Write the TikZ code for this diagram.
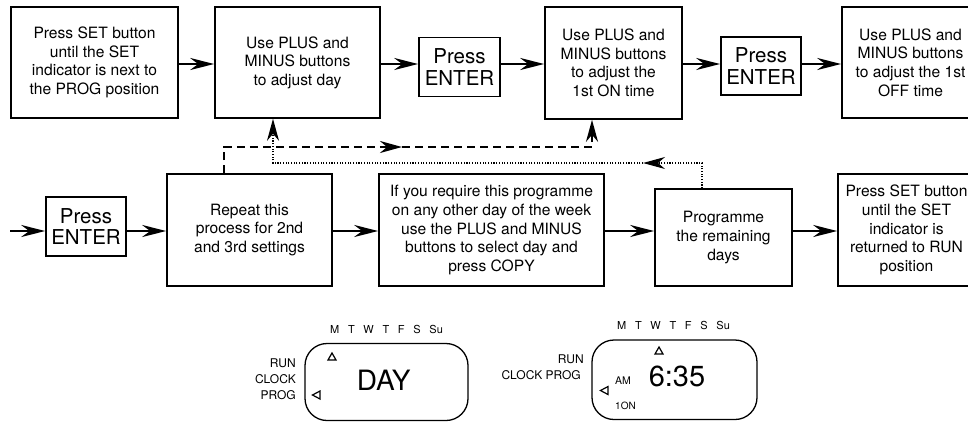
\documentclass[tikz,border=0pt]{standalone}
\usepackage{fontspec}
\setmainfont{TeX Gyre Heros}
\usetikzlibrary{arrows.meta}
\tikzset{
  box/.style={draw, line width=1.6pt, align=center, inner sep=0pt,
    font=\fontsize{15.6}{18.6}\selectfont},
  ebox/.style={draw, line width=1.6pt, align=center, inner sep=0pt,
    font=\fontsize{20.5}{21.5}\selectfont},
  arr/.style={line width=2.4pt, -{Stealth[length=24pt,width=12pt,inset=8pt]}},
  dashln/.style={line width=2.4pt, dash pattern=on 8pt off 5pt, -{Stealth[length=22pt,width=12pt,inset=7pt]}},
  dotln/.style={line width=1.1pt, dash pattern=on 1.1pt off 1.6pt, -{Stealth[length=22pt,width=12pt,inset=7pt]}},
  disp/.style={draw, line width=1.3pt, rounded corners=22pt},
  lbl/.style={font=\fontsize{12}{12}\selectfont, inner sep=0pt},
  days/.style={font=\fontsize{11}{12}\selectfont, inner sep=0pt, anchor=west},
  tri/.style={line width=1.2pt, line join=miter},
}
\newcommand{\dayrow}{M\hspace{8.7pt}T\hspace{8.7pt}W\hspace{8.7pt}T\hspace{8.7pt}F\hspace{8.7pt}S\hspace{8.7pt}Su}
\begin{document}
\begin{tikzpicture}[x=1pt,y=-1pt]
\useasboundingbox (0,0) rectangle (968,421);
\clip (0,0) rectangle (968,421);
% row 1
\node[box, minimum width=167pt, minimum height=111pt] (b1) at (94.5,62.5)
  {Press SET button\\until the SET\\indicator is next to\\the PROG position};
\node[box, minimum width=165pt, minimum height=111pt] (b2) at (297.5,62.5)
  {Use PLUS and\\MINUS buttons\\to adjust day};
\node[ebox, minimum width=81pt, minimum height=59pt] (e1) at (459.5,67)
  {Press\\ENTER};
\node[box, minimum width=137pt, minimum height=112pt] (b3) at (613.5,63)
  {Use PLUS and\\MINUS buttons\\to adjust the\\1st ON time};
\node[ebox, minimum width=80pt, minimum height=58pt] (e2) at (761,66)
  {Press\\ENTER};
\node[box, minimum width=137pt, minimum height=111pt] (b4) at (910.5,62.5)
  {Use PLUS and\\MINUS buttons\\to adjust the 1st\\OFF time};
% row 2
\node[ebox, minimum width=80pt, minimum height=59pt] (e3) at (86,226.5)
  {Press\\ENTER};
\node[box, minimum width=165pt, minimum height=112pt] (b5) at (249.5,230)
  {Repeat this\\process for 2nd\\and 3rd settings};
\node[box, minimum width=225pt, minimum height=112pt] (b6) at (491.5,230)
  {If you require this programme\\on any other day of the week\\use the PLUS and MINUS\\buttons to select day and\\press COPY};
\node[box, minimum width=137pt, minimum height=97pt] (b7) at (723.5,237.5)
  {Programme\\the remaining\\days};
\node[box, minimum width=137pt, minimum height=112pt] (b8) at (906.5,230)
  {Press SET button\\until the SET\\indicator is\\returned to RUN\\position};
% arrows row 1
\coordinate (r1) at (0,64);
\draw[arr] (b1.east |- r1) -- (b2.west |- r1);
\draw[arr] (b2.east |- r1) -- (e1.west |- r1);
\draw[arr] (e1.east |- r1) -- (b3.west |- r1);
\draw[arr] (b3.east |- r1) -- (e2.west |- r1);
\draw[arr] (e2.east |- r1) -- (b4.west |- r1);
% arrows row 2
\coordinate (r2) at (0,231);
\coordinate (in) at (10,231);
\draw[arr] (in) -- (in -| e3.west);
\draw[arr] (e3.east |- r2) -- (b5.west |- r2);
\draw[arr] (b5.east |- r2) -- (b6.west |- r2);
\draw[arr] (b6.east |- r2) -- (b7.west |- r2);
\draw[arr] (b7.east |- r2) -- (b8.west |- r2);
% dashed loop
\coordinate (d1) at (224,147);
\coordinate (dm) at (402,147);
\coordinate (d2) at (592,147);
\draw[dashln] (d1 |- b5.north) -- (d1) -- (dm);
\draw[dashln] (dm) -- (d2) -- (d2 |- b3.south);
% dotted loop
\coordinate (p1) at (702,163);
\coordinate (pm) at (643,163);
\coordinate (p2) at (273,163);
\draw[dotln] (p1 |- b7.north) -- (p1) -- (pm);
\draw[dotln] (pm) -- (p2) -- (p2 |- b2.south);
% left display
\draw[disp] (305,343.5) rectangle (468,420.5);
\node[days] (ldays) at (330,329) {\dayrow};
\node[lbl, anchor=east] (lr) at (296,363) {RUN};
\node[lbl, anchor=east] (lc) at (296,379) {CLOCK};
\node[lbl, anchor=east] (lp) at (296,395) {PROG};
\node[font=\fontsize{28}{28}\selectfont, inner sep=0pt] (dday) at (383.7,380) {DAY};
\draw[tri] (328,360) -- (336,360) -- (332,353) -- cycle;
\draw[tri] (320,391) -- (320,399) -- (312.5,395) -- cycle;
% right display
\draw[disp] (592,340) rectangle (757,419.5);
\node[days] (rdays) at (617,325.5) {\dayrow};
\node[lbl, anchor=east] (rr) at (584,359) {RUN};
\node[lbl, anchor=east] (rc) at (581,375) {CLOCK PROG};
\node[font=\fontsize{29}{29}\selectfont, inner sep=0pt] (dtime) at (677,376) {6:35};
\node[font=\fontsize{10.5}{11}\selectfont, inner sep=0pt] (am) at (623,381) {AM};
\node[font=\fontsize{10}{11}\selectfont, inner sep=0pt] (on) at (625.5,406) {1ON};
\draw[tri] (655,354) -- (663,354) -- (659,347) -- cycle;
\draw[tri] (608,386.5) -- (608,394.5) -- (600.5,390.5) -- cycle;
\end{tikzpicture}
\end{document}
